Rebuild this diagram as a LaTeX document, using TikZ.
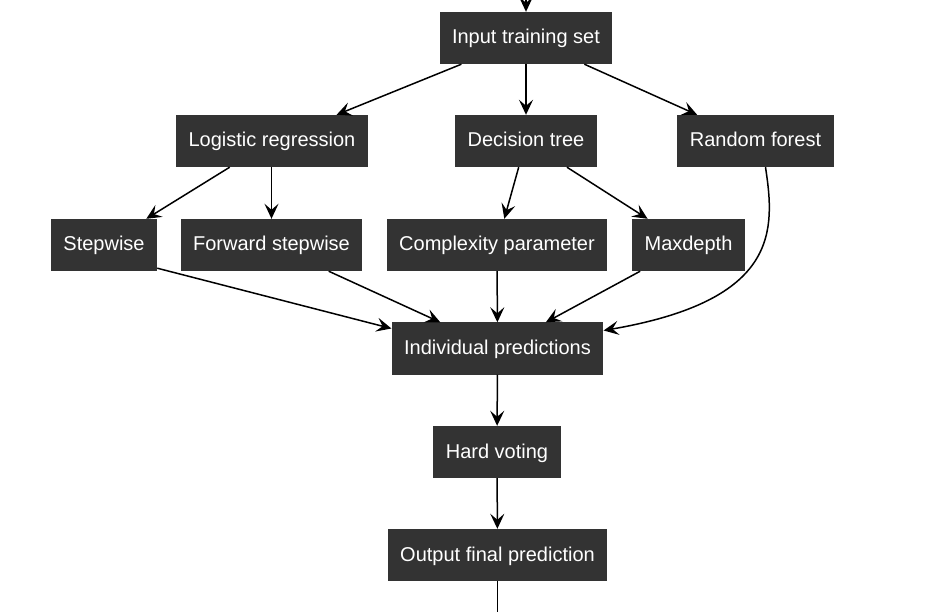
\documentclass[tikz,border=0pt]{standalone}
\usepackage{fontspec}
\setmainfont{Liberation Sans}
\usetikzlibrary{arrows.meta}
\definecolor{boxgray}{HTML}{333333}

\begin{document}
\begin{tikzpicture}[x=1pt,y=-1pt,
	box/.style={fill=boxgray,text=white,inner xsep=12.5pt,inner ysep=0pt,minimum height=52pt,text height=14.5pt,text depth=2.5pt,font=\fontsize{20}{24}\selectfont},
	arr/.style={line width=1.5pt,-{Stealth[length=15pt,width=14pt,inset=6pt]}}]
	\useasboundingbox (0,0) rectangle (937,612);
	\node[box] (input) at (526,38) {Input training set};
	\node[box] (logreg) at (272,141) {Logistic regression};
	\node[box] (dtree) at (526,141) {Decision tree};
	\node[box] (rforest) at (755.5,141) {Random forest};
	\node[box] (stepw) at (104,245) {Stepwise};
	\node[box] (fwdstep) at (271.5,245) {Forward stepwise};
	\node[box] (cparam) at (497,245) {Complexity parameter};
	\node[box] (maxd) at (688.5,245) {Maxdepth};
	\node[box] (indiv) at (497.5,348.5) {Individual predictions};
	\node[box] (hardv) at (497,452) {Hard voting};
	\node[box] (outp) at (497.5,555) {Output final prediction};
	\coordinate (top) at (526,0);
	\coordinate (bottom) at (497.5,612);
	% edges
	\draw[arr] (top) -- (input);
	\draw[arr] (input) -- (logreg);
	\draw[arr] (input) -- (dtree);
	\draw[arr] (input) -- (rforest);
	\draw[arr] (logreg) -- (stepw);
	\draw[arr] (logreg.south -| fwdstep) -- (fwdstep);
	\draw[arr] (dtree) -- (cparam);
	\draw[arr] (dtree) -- (maxd);
	\draw[arr] ([yshift=3pt]stepw.south east) -- ([yshift=20pt]indiv.west);
	\draw[arr] (fwdstep) -- (indiv);
	\draw[arr] (cparam) -- (indiv);
	\draw[arr] (maxd) -- (indiv);
	\draw[arr] ([xshift=10pt]rforest.south) .. controls (775,230) and (780,300) .. ([yshift=18pt]indiv.east);
	\draw[arr] (indiv) -- (hardv);
	\draw[arr] (hardv) -- (outp);
	\draw[line width=1.5pt] (outp) -- (bottom);
\end{tikzpicture}
\end{document}
